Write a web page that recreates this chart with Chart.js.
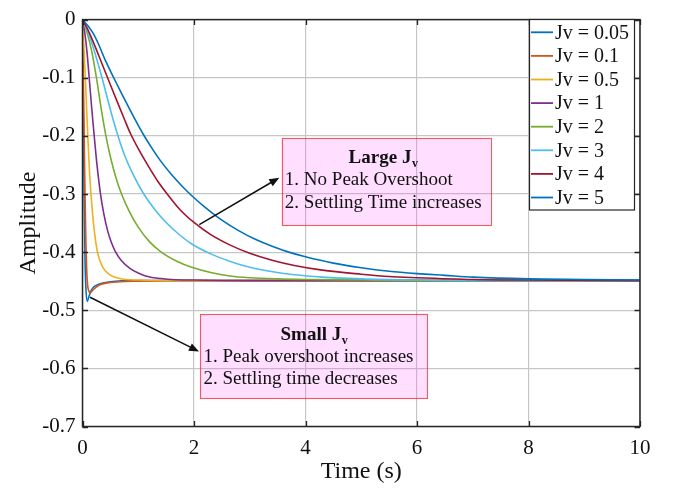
<!DOCTYPE html>
<html>
<head>
<meta charset="utf-8">
<script src="https://cdn.jsdelivr.net/npm/chart.js@4.4.1/dist/chart.umd.min.js"></script>
<style>
  html, body { margin: 0; padding: 0; background: #ffffff; }
  canvas { display: block; }
</style>
</head>
<body>
<canvas id="chart" width="678" height="493"></canvas>
<script>
// Amplitude step response for several virtual inertia values Jv

const seriesLabels = ['Jv = 0.05', 'Jv = 0.1', 'Jv = 0.5', 'Jv = 1', 'Jv = 2', 'Jv = 3', 'Jv = 4', 'Jv = 5'];
const seriesColors = ['#0072BD', '#D95319', '#EDB120', '#7E2F8E', '#77AC30', '#4DBEEE', '#A2142F', '#0072BD'];

// time (s) / amplitude samples per curve
const tJv005 = [0, 0.01, 0.02, 0.03, 0.045, 0.06, 0.086, 0.11, 0.15, 0.2, 0.3, 0.5, 1, 10];
const aJv005 = [0, -0.10, -0.21, -0.31, -0.41, -0.460, -0.485, -0.478, -0.467, -0.460, -0.455, -0.451, -0.449, -0.449];

const tJv01 = [0, 0.015, 0.03, 0.045, 0.06, 0.075, 0.09, 0.11, 0.135, 0.18, 0.25, 0.31, 0.45, 0.67, 1.0, 1.5, 10];
const aJv01 = [0, -0.10, -0.20, -0.30, -0.38, -0.43, -0.455, -0.466, -0.470, -0.466, -0.460, -0.456, -0.453, -0.451, -0.450, -0.449, -0.449];

const tJv05 = [0, 0.02, 0.05, 0.075, 0.095, 0.12, 0.152, 0.18, 0.22, 0.26, 0.31, 0.37, 0.45, 0.53, 0.65, 0.77, 1.0, 1.5, 10];
const aJv05 = [0, -0.035, -0.100, -0.155, -0.200, -0.252, -0.300, -0.333, -0.370, -0.396, -0.414, -0.427, -0.436, -0.441, -0.445, -0.447, -0.448, -0.449, -0.449];

const tJv1 = [0, 0.04, 0.08, 0.12, 0.165, 0.21, 0.26, 0.32, 0.38, 0.45, 0.52, 0.59, 0.7, 0.85, 1.0, 1.13, 1.35, 1.6, 1.96, 3, 10];
const aJv1 = [0, -0.022, -0.055, -0.100, -0.152, -0.200, -0.250, -0.298, -0.333, -0.363, -0.384, -0.399, -0.415, -0.428, -0.436, -0.441, -0.445, -0.447, -0.448, -0.449, -0.449];

const tJv2 = [0, 0.08, 0.16, 0.25, 0.33, 0.42, 0.5, 0.6, 0.7, 0.85, 1.0, 1.2, 1.4, 1.7, 1.96, 2.3, 2.65, 3.0, 3.5, 4, 5, 6, 10];
const aJv2 = [0, -0.022, -0.052, -0.100, -0.150, -0.200, -0.236, -0.272, -0.300, -0.332, -0.357, -0.382, -0.399, -0.416, -0.426, -0.435, -0.441, -0.444, -0.446, -0.447, -0.448, -0.449, -0.449];

const tJv3 = [0, 0.1, 0.2, 0.35, 0.5, 0.63, 0.75, 0.9, 1.1, 1.3, 1.5, 1.75, 1.96, 2.3, 2.65, 3.0, 3.36, 3.8, 4.3, 5, 6, 7, 10];
const aJv3 = [0, -0.022, -0.050, -0.100, -0.155, -0.198, -0.232, -0.265, -0.300, -0.327, -0.349, -0.371, -0.386, -0.403, -0.416, -0.426, -0.433, -0.439, -0.443, -0.446, -0.448, -0.449, -0.449];

const tJv4 = [0, 0.1, 0.2, 0.3, 0.45, 0.6, 0.75, 0.86, 1.0, 1.2, 1.35, 1.52, 1.75, 2.0, 2.3, 2.65, 3.0, 3.4, 3.8, 4.3, 5, 5.5, 6, 7, 8, 10];
const aJv4 = [0, -0.018, -0.040, -0.064, -0.100, -0.136, -0.171, -0.196, -0.222, -0.255, -0.278, -0.300, -0.327, -0.349, -0.370, -0.388, -0.402, -0.414, -0.423, -0.431, -0.438, -0.442, -0.444, -0.447, -0.448, -0.449];

const tJv5 = [0, 0.1, 0.2, 0.3, 0.4, 0.56, 0.7, 0.85, 1.0, 1.1, 1.25, 1.4, 1.6, 1.8, 1.96, 2.2, 2.5, 2.8, 3.1, 3.4, 3.7, 4.0, 4.5, 5, 5.5, 6, 6.5, 7, 8, 9, 10];
const aJv5 = [0, -0.011, -0.025, -0.045, -0.068, -0.100, -0.127, -0.155, -0.182, -0.199, -0.222, -0.243, -0.267, -0.288, -0.303, -0.323, -0.345, -0.363, -0.378, -0.390, -0.400, -0.408, -0.419, -0.427, -0.433, -0.437, -0.440, -0.443, -0.446, -0.447, -0.448];

const seriesTimes = [tJv005, tJv01, tJv05, tJv1, tJv2, tJv3, tJv4, tJv5];
const seriesAmps = [aJv005, aJv01, aJv05, aJv1, aJv2, aJv3, aJv4, aJv5];

const xTicks = [0, 2, 4, 6, 8, 10];
const yTicks = [0, -0.1, -0.2, -0.3, -0.4, -0.5, -0.6, -0.7];
const xTickLabels = ['0', '2', '4', '6', '8', '10'];
const yTickLabels = ['0', '-0.1', '-0.2', '-0.3', '-0.4', '-0.5', '-0.6', '-0.7'];

const SERIF = '"Liberation Serif", "Times New Roman", serif';
const INK = '#111111';

// Callout boxes and arrows, placed in axis units
const callouts = [
  {
    box: { x0: 3.57, x1: 7.32, y0: -0.2043, y1: -0.3537 },
    title: { x: 5.39, y: -0.238, main: 'Large J', sub: 'v' },
    lines: [
      { x: 3.63, y: -0.2765, text: '1. No Peak Overshoot' },
      { x: 3.63, y: -0.3155, text: '2. Settling Time increases' }
    ],
    arrow: { x0: 2.095, y0: -0.3526, x1: 3.53, y1: -0.272 }
  },
  {
    box: { x0: 2.11, x1: 6.18, y0: -0.507, y1: -0.652 },
    title: { x: 4.15, y: -0.542, main: 'Small J', sub: 'v' },
    lines: [
      { x: 2.17, y: -0.5808, text: '1. Peak overshoot increases' },
      { x: 2.17, y: -0.6180, text: '2. Settling time decreases' }
    ],
    arrow: { x0: 0.135, y0: -0.4776, x1: 2.09, y1: -0.571 }
  }
];

function drawArrow(ctx, x0, y0, x1, y1) {
  const ang = Math.atan2(y1 - y0, x1 - x0);
  const hl = 10, hw = 4;
  ctx.save();
  ctx.strokeStyle = INK;
  ctx.fillStyle = INK;
  ctx.lineWidth = 1.5;
  ctx.beginPath();
  ctx.moveTo(x0, y0);
  ctx.lineTo(x1 - Math.cos(ang) * hl * 0.8, y1 - Math.sin(ang) * hl * 0.8);
  ctx.stroke();
  ctx.beginPath();
  ctx.moveTo(x1, y1);
  ctx.lineTo(x1 - Math.cos(ang) * hl - Math.sin(ang) * hw, y1 - Math.sin(ang) * hl + Math.cos(ang) * hw);
  ctx.lineTo(x1 - Math.cos(ang) * hl + Math.sin(ang) * hw, y1 - Math.sin(ang) * hl - Math.cos(ang) * hw);
  ctx.closePath();
  ctx.fill();
  ctx.restore();
}

// Box outline plus inward tick marks on all four sides
const axesBoxPlugin = {
  id: 'axesBox',
  afterDatasetsDraw(chart) {
    const { ctx, chartArea: a, scales: { x, y } } = chart;
    ctx.save();
    ctx.strokeStyle = '#262626';
    ctx.lineWidth = 1.3;
    const tl = 5.5;
    ctx.beginPath();
    x.ticks.forEach(t => {
      const px = Math.round(x.getPixelForValue(t.value)) + 0.5;
      ctx.moveTo(px, a.bottom); ctx.lineTo(px, a.bottom - tl);
      ctx.moveTo(px, a.top); ctx.lineTo(px, a.top + tl);
    });
    y.ticks.forEach(t => {
      const py = Math.round(y.getPixelForValue(t.value)) + 0.5;
      ctx.moveTo(a.left, py); ctx.lineTo(a.left + tl, py);
      ctx.moveTo(a.right, py); ctx.lineTo(a.right - tl, py);
    });
    ctx.stroke();
    ctx.lineWidth = 1.5;
    ctx.strokeRect(a.left, a.top, a.right - a.left, a.bottom - a.top);
    ctx.restore();
  }
};

const calloutPlugin = {
  id: 'callouts',
  afterDatasetsDraw(chart) {
    const { ctx, scales: { x, y } } = chart;
    callouts.forEach(c => {
      const bx0 = x.getPixelForValue(c.box.x0), bx1 = x.getPixelForValue(c.box.x1);
      const by0 = y.getPixelForValue(c.box.y0), by1 = y.getPixelForValue(c.box.y1);
      ctx.save();
      ctx.fillStyle = 'rgba(255, 60, 255, 0.17)';
      ctx.fillRect(bx0, by0, bx1 - bx0, by1 - by0);
      ctx.strokeStyle = 'rgba(240, 40, 40, 0.75)';
      ctx.lineWidth = 1.1;
      ctx.strokeRect(Math.round(bx0) + 0.5, Math.round(by0) + 0.5, Math.round(bx1 - bx0), Math.round(by1 - by0));

      ctx.fillStyle = INK;
      ctx.textBaseline = 'middle';
      // bold title with subscript v
      const mainFont = 'bold 19px ' + SERIF;
      const subFont = 'bold 12px ' + SERIF;
      ctx.font = mainFont;
      const wMain = ctx.measureText(c.title.main).width;
      ctx.font = subFont;
      const wSub = ctx.measureText(c.title.sub).width;
      const tx = x.getPixelForValue(c.title.x) - (wMain + wSub) / 2;
      const ty = y.getPixelForValue(c.title.y);
      ctx.textAlign = 'left';
      ctx.font = mainFont;
      ctx.fillText(c.title.main, tx, ty);
      ctx.font = subFont;
      ctx.fillText(c.title.sub, tx + wMain + 0.5, ty + 6);

      ctx.font = '19px ' + SERIF;
      c.lines.forEach(l => {
        ctx.fillText(l.text, x.getPixelForValue(l.x), y.getPixelForValue(l.y));
      });
      ctx.restore();

      drawArrow(ctx,
        x.getPixelForValue(c.arrow.x0), y.getPixelForValue(c.arrow.y0),
        x.getPixelForValue(c.arrow.x1), y.getPixelForValue(c.arrow.y1));
    });
  }
};

// Legend box in the upper right corner of the plot
const legendBoxPlugin = {
  id: 'legendBox',
  afterDraw(chart) {
    const { ctx } = chart;
    const left = 529, top = 19, w = 105, rowH = 23.6, firstRow = 32.3;
    const h = 190.5;
    ctx.save();
    ctx.fillStyle = '#ffffff';
    ctx.fillRect(left, top, w, h);
    ctx.strokeStyle = '#262626';
    ctx.lineWidth = 1.2;
    ctx.strokeRect(left + 0.5, top + 0.5, w, h);
    ctx.font = '20px ' + SERIF;
    ctx.textBaseline = 'middle';
    ctx.textAlign = 'left';
    chart.data.datasets.forEach((ds, i) => {
      const cy = top + (firstRow - 19) + i * rowH;
      ctx.strokeStyle = ds.borderColor;
      ctx.lineWidth = 1.8;
      ctx.beginPath();
      ctx.moveTo(left + 2, cy);
      ctx.lineTo(left + 24, cy);
      ctx.stroke();
      ctx.fillStyle = INK;
      ctx.fillText(ds.label, left + 26, cy + 1);
    });
    ctx.restore();
  }
};

const datasets = seriesLabels.map((label, i) => ({
  label,
  data: seriesTimes[i].map((t, k) => ({ x: t, y: seriesAmps[i][k] })),
  borderColor: seriesColors[i],
  backgroundColor: seriesColors[i],
  borderWidth: 1.6,
  pointRadius: 0,
  fill: false,
  cubicInterpolationMode: 'monotone',
  order: seriesLabels.length - i
}));

new Chart(document.getElementById('chart'), {
  type: 'line',
  data: { datasets },
  options: {
    responsive: false,
    animation: false,
    devicePixelRatio: 1,
    layout: { padding: { top: 12.5, right: 38, left: 0, bottom: 0 } },
    plugins: {
      legend: { display: false },
      tooltip: { enabled: false }
    },
    scales: {
      x: {
        type: 'linear',
        min: 0,
        max: 10,
        afterBuildTicks(scale) { scale.ticks = xTicks.map(v => ({ value: v })); },
        afterFit(scale) { scale.height = 66.5; },
        ticks: {
          callback: (v) => xTickLabels[xTicks.indexOf(v)],
          font: { family: SERIF, size: 21 },
          color: INK,
          padding: 9,
          maxRotation: 0
        },
        grid: { color: '#c6c6c6', lineWidth: 1.2, drawTicks: false, tickLength: 0 },
        border: { display: false },
        title: {
          display: true,
          text: 'Time (s)',
          font: { family: SERIF, size: 24 },
          color: INK,
          padding: { top: 0, bottom: 6.5 }
        }
      },
      y: {
        type: 'linear',
        min: -0.7,
        max: 0,
        afterBuildTicks(scale) { scale.ticks = yTicks.map(v => ({ value: v })); },
        afterFit(scale) { scale.width = 82.5; },
        ticks: {
          callback: (v) => yTickLabels[yTicks.findIndex(t => Math.abs(t - v) < 1e-9)],
          font: { family: SERIF, size: 21 },
          color: INK,
          padding: 7
        },
        grid: { color: '#c6c6c6', lineWidth: 1.2, drawTicks: false, tickLength: 0 },
        border: { display: false },
        title: {
          display: true,
          text: 'Amplitude',
          font: { family: SERIF, size: 24 },
          color: INK,
          padding: { top: 14, bottom: 0 }
        }
      }
    }
  },
  plugins: [axesBoxPlugin, calloutPlugin, legendBoxPlugin]
});
</script>
</body>
</html>
